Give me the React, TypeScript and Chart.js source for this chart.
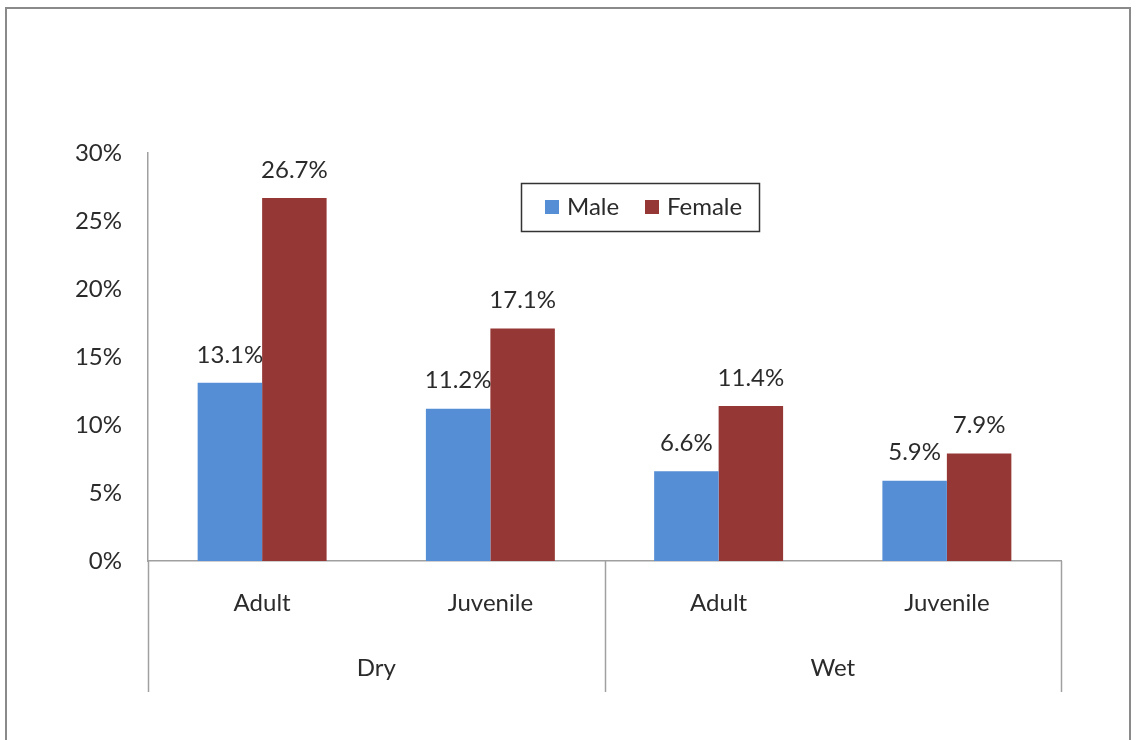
import React, { useEffect, useRef } from "react";
import { Chart, registerables } from "chart.js";

Chart.register(...registerables);

const categories = ["Adult", "Juvenile", "Adult", "Juvenile"];
const groups = ["Dry", "Wet"];
const maleValues = [13.1, 11.2, 6.6, 5.9];
const femaleValues = [26.7, 17.1, 11.4, 7.9];
const yTicks = [0, 5, 10, 15, 20, 25, 30];

const MALE = "#558ED5";
const FEMALE = "#953735";
const AXIS = "#a0a0a0";
const TEXT = "#2b2b2b";
const FONT = "Lato, 'Open Sans', sans-serif";
const FS = 24;

const overlay = {
  id: "overlay",
  afterDatasetsDraw(chart: any) {
    const ctx = chart.ctx;
    const xs = chart.scales.x;
    const area = chart.chartArea;
    ctx.save();
    ctx.font = `${FS}px ${FONT}`;
    ctx.fillStyle = TEXT;
    ctx.textAlign = "center";
    ctx.textBaseline = "middle";
    // data labels
    chart.data.datasets.forEach((ds: any, di: number) => {
      const meta = chart.getDatasetMeta(di);
      meta.data.forEach((bar: any, i: number) => {
        ctx.fillText(ds.data[i].toFixed(1) + "%", bar.x, bar.y - 28);
      });
    });
    // category labels
    categories.forEach((c, i) => {
      ctx.fillText(c, xs.getPixelForValue(i), area.bottom + 42);
    });
    // group labels & separators
    const half = (xs.getPixelForValue(1) - xs.getPixelForValue(0)) / 2;
    ctx.strokeStyle = AXIS;
    ctx.lineWidth = 1.5;
    const bounds: number[] = [];
    groups.forEach((g, gi) => {
      const a = xs.getPixelForValue(gi * 2);
      const b = xs.getPixelForValue(gi * 2 + 1);
      ctx.fillText(g, (a + b) / 2, area.bottom + 107);
      bounds.push(a - half);
      if (gi === groups.length - 1) bounds.push(b + half);
    });
    bounds.forEach((bx) => {
      const px = Math.round(bx) + 0.5;
      ctx.beginPath();
      ctx.moveTo(px, area.bottom);
      ctx.lineTo(px, area.bottom + 131);
      ctx.stroke();
    });
    // legend
    const lx = 521, ly = 183, lw = 238, lh = 48;
    ctx.strokeStyle = "#333";
    ctx.lineWidth = 1.5;
    ctx.strokeRect(lx + 0.5, ly + 0.5, lw, lh);
    ctx.textAlign = "left";
    const items = chart.data.datasets.map((d: any) => ({ label: d.label, color: d.backgroundColor }));
    const starts = [545, 645];
    items.forEach((it: any, i: number) => {
      const sx = starts[i];
      ctx.fillStyle = it.color;
      ctx.fillRect(sx, ly + 17, 14, 14);
      ctx.fillStyle = TEXT;
      ctx.fillText(it.label, sx + 22, ly + 24);
    });
    ctx.restore();
  },
};

export default function App() {
  const ref = useRef<HTMLCanvasElement | null>(null);
  useEffect(() => {
    if (!ref.current) return;
    const chart = new Chart(ref.current, {
      type: "bar",
      data: {
        labels: categories,
        datasets: [
          { label: "Male", data: maleValues, backgroundColor: MALE },
          { label: "Female", data: femaleValues, backgroundColor: FEMALE },
        ],
      },
      options: {
        responsive: false,
        animation: false,
        devicePixelRatio: 1,
        layout: { padding: { top: 153, right: 75, left: 0, bottom: 0 } },
        plugins: { legend: { display: false }, tooltip: { enabled: false } },
        datasets: { bar: { categoryPercentage: 0.565, barPercentage: 1 } },
        scales: {
          x: {
            grid: { display: false, drawTicks: false },
            border: { display: true, color: AXIS, width: 1.5 },
            ticks: { display: false },
            afterFit: (s: any) => {
              s.height = 179;
            },
          },
          y: {
            min: 0,
            max: 30,
            afterBuildTicks: (s: any) => {
              s.ticks = yTicks.map((v) => ({ value: v }));
            },
            grid: { display: false, drawTicks: false },
            border: { display: true, color: AXIS, width: 1.5 },
            ticks: {
              padding: 26,
              color: TEXT,
              font: { family: FONT, size: FS },
              callback: (v: any) => v + "%",
            },
            afterFit: (s: any) => {
              s.width = 148;
            },
          },
        },
      },
      plugins: [overlay],
    });
    return () => chart.destroy();
  }, []);
  return (
    <div style={{ position: "fixed", left: 0, top: 0, width: 1136, height: 740, background: "#fff", overflow: "hidden" }}>
      <div
        style={{
          position: "absolute",
          left: 5,
          top: 7,
          width: 1126,
          height: 800,
          border: "2px solid #8a8a8a",
          boxSizing: "border-box",
        }}
      />
      <canvas ref={ref} width={1136} height={740} style={{ position: "absolute", left: 0, top: 0 }} />
    </div>
  );
}
